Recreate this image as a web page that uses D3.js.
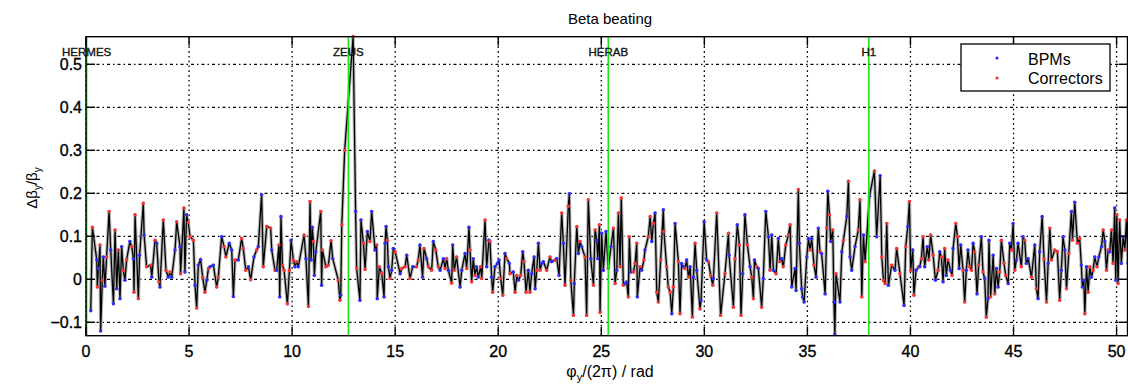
<!DOCTYPE html>
<html>
<head>
<meta charset="utf-8">
<script src="https://cdn.jsdelivr.net/npm/d3@7"></script>
<style>
  html, body { margin: 0; padding: 0; background: #fff; }
  svg { display: block; font-family: "Liberation Sans", Arial, Helvetica, sans-serif; }
</style>
</head>
<body>
<svg id="chart" width="1128" height="388"></svg>
<script>
// Phase advance of each monitor / corrector, in units of 2π
const phase = [
  0.23,0.31,0.52,0.55,0.60,0.68,0.71,0.79,0.84,0.92,1.00,1.12,1.20,1.33,1.41,1.49,1.57,1.65,1.73,1.81,
  1.89,1.97,2.13,2.22,2.30,2.33,2.38,2.54,2.60,2.78,2.82,2.94,3.14,3.19,3.35,3.43,3.54,3.59,3.75,3.88,
  3.99,4.08,4.16,4.32,4.40,4.56,4.59,4.75,4.80,4.88,4.96,5.05,5.21,5.29,5.37,5.45,5.56,5.66,5.77,5.86,
  5.94,6.02,6.18,6.34,6.42,6.58,6.70,6.79,6.95,7.07,7.15,7.23,7.39,7.55,7.63,7.75,7.88,7.99,8.15,8.28,
  8.36,8.52,8.60,8.77,8.96,9.01,9.17,9.25,9.36,9.40,9.46,9.53,9.61,9.77,9.87,9.95,
  10.06,10.14,10.22,10.30,10.58,10.67,10.79,10.87,10.92,10.98,11.03,11.08,11.15,11.39,11.43,11.47,11.64,11.76,11.89,11.97,
  12.24,12.32,12.36,12.41,12.55,12.96,13.08,13.13,13.29,13.34,13.46,13.54,13.65,13.78,13.86,14.02,14.10,14.13,14.23,14.35,
  14.46,14.51,14.56,14.62,14.67,14.75,14.83,14.91,15.00,15.24,15.32,15.48,15.56,15.72,15.85,16.04,16.12,16.20,16.33,16.40,
  16.53,16.61,16.77,16.85,16.97,17.09,17.18,17.34,17.42,17.50,17.58,17.74,17.79,17.87,17.98,18.15,18.23,18.39,18.47,18.58,
  18.63,18.71,18.79,18.87,18.95,19.03,19.15,19.20,19.36,19.44,19.55,19.60,19.68,19.73,19.84,19.96,20.04,20.12,20.22,
  20.33,20.41,20.54,20.57,20.73,20.82,20.90,20.98,21.09,21.19,21.25,21.35,21.46,21.54,21.62,21.74,21.79,21.87,21.95,22.03,
  22.11,22.19,22.35,22.51,22.59,22.76,22.84,22.95,23.08,23.16,23.24,23.40,23.45,23.52,23.65,23.69,23.81,23.89,23.97,24.05,
  24.21,24.29,24.37,24.49,24.62,24.70,24.78,24.83,24.91,24.94,25.02,25.10,25.23,25.34,25.47,25.59,25.67,25.75,25.83,25.91,
  25.97,26.07,26.15,26.23,26.31,26.36,26.43,26.56,26.64,26.72,26.75,26.88,26.96,27.07,27.12,27.28,27.37,27.45,27.53,27.61,
  27.69,27.77,27.88,28.01,28.04,28.17,28.25,28.34,28.42,28.50,28.58,28.74,28.82,28.90,28.98,29.06,29.14,29.23,29.31,29.42,
  29.47,29.55,29.63,29.79,29.84,29.99,30.11,30.20,30.31,
  30.41,30.44,30.60,30.79,31.00,31.17,31.20,31.41,31.49,31.60,31.70,31.78,31.86,31.97,32.09,32.22,32.30,32.38,32.43,32.54,
  32.62,32.78,32.86,32.98,33.11,33.19,33.27,33.35,33.48,33.59,33.67,33.75,33.83,33.95,34.08,34.16,34.24,34.40,34.45,34.56,
  34.61,34.72,34.77,34.84,34.97,35.05,35.13,35.21,35.32,35.42,35.53,35.61,35.69,35.86,35.94,35.99,36.07,36.13,36.23,36.29,
  36.33,36.39,36.58,36.67,36.75,36.91,36.99,37.07,37.15,37.31,37.47,37.55,37.64,37.72,37.80,38.01,38.25,38.36,38.53,38.61,
  38.69,38.77,38.85,38.93,39.09,39.25,39.33,39.49,39.69,39.77,39.87,39.95,40.01,40.11,40.17,40.27,40.39,
  40.45,40.53,40.61,40.69,40.82,40.89,40.98,41.10,41.21,41.34,41.42,41.50,41.58,41.66,41.74,41.82,41.94,42.02,42.07,42.20,
  42.28,42.36,42.44,42.55,42.63,42.71,42.79,42.88,42.96,43.04,43.12,43.23,43.31,43.44,43.52,43.60,43.68,43.76,43.81,43.89,
  44.01,44.09,44.17,44.25,44.33,44.41,44.54,44.62,44.74,44.82,44.90,44.98,45.06,45.14,45.22,45.38,45.46,45.54,45.62,45.71,
  45.87,46.03,46.11,46.19,46.27,46.39,46.48,46.60,46.68,46.76,46.84,47.00,47.13,47.24,47.32,47.40,47.49,47.57,47.68,47.81,
  47.86,47.97,48.10,48.21,48.29,48.34,48.41,48.46,48.54,48.62,48.70,48.78,48.86,48.94,49.05,49.14,49.27,49.35,49.43,49.51,
  49.59,49.67,49.75,49.83,49.91,49.96,50.01,50.07,50.15,50.23,50.32,50.40,50.48,50.56
];

// Relative beta beating Δβy/βy at each element
const beating = [
  -0.073,0.121,0.046,-0.018,0.025,0.080,-0.120,-0.002,0.052,-0.016,0.052,0.158,0.068,-0.057,0.115,-0.022,0.068,-0.045,0.076,0.021,
  -0.002,0.045,0.088,0.076,0.048,-0.030,0.150,-0.045,0.056,0.177,0.103,0.029,0.033,0.005,0.091,0.084,-0.006,-0.018,0.138,0.021,
  0.005,0.017,0.005,0.068,0.134,0.076,0.013,0.166,0.017,0.150,0.132,0.099,0.091,-0.014,-0.067,0.033,0.046,0.005,-0.030,-0.002,
  0.025,0.029,0.033,-0.018,0.005,0.099,0.076,0.052,0.084,0.068,-0.040,0.045,0.045,0.095,0.072,0.021,0.029,-0.001,0.052,0.068,
  0.076,0.197,0.029,0.123,0.119,0.068,0.021,0.021,0.080,-0.041,0.146,0.033,0.021,-0.057,0.021,0.091,
  0.045,0.029,0.041,0.029,0.103,0.048,-0.063,0.181,0.045,0.121,0.088,0.009,0.064,0.158,-0.014,0.068,0.029,0.033,0.090,0.048,
  -0.002,-0.049,-0.037,0.127,0.300,0.565,0.158,0.025,-0.049,0.138,0.084,0.023,0.111,0.088,0.158,0.068,0.080,-0.045,0.029,0.013,
  -0.041,0.084,0.123,0.091,0.029,0.002,0.021,0.072,0.064,0.013,0.025,0.029,0.056,0.002,0.029,0.029,0.045,0.080,0.005,0.072,
  0.048,0.029,0.021,0.088,0.068,0.029,0.021,0.048,0.025,0.048,0.021,-0.009,0.080,0.021,0.052,-0.018,0.021,0.060,0.025,0.121,
  0.068,-0.006,0.048,0.009,0.029,0.005,0.029,0.002,0.138,0.029,0.091,0.088,0.005,-0.030,0.029,0.037,0.045,0.002,-0.037,
  0.060,0.048,0.037,0.013,0.017,-0.030,0.009,-0.002,0.009,0.064,0.041,-0.030,0.021,-0.030,0.013,0.052,-0.022,0.021,0.084,0.021,
  0.037,0.041,0.021,0.052,0.041,0.045,0.048,0.009,0.154,0.084,-0.014,0.170,0.199,-0.002,-0.084,-0.010,0.123,0.060,0.088,0.076,
  0.052,-0.084,0.185,0.048,-0.014,0.115,0.091,0.048,0.127,-0.077,0.107,0.021,0.111,0.025,0.076,0.119,-0.010,0.021,0.154,0.029,
  0.189,-0.014,-0.010,-0.006,-0.041,0.099,0.017,0.017,0.037,0.084,-0.041,0.029,0.021,0.045,0.068,0.099,0.146,0.088,0.130,0.154,
  -0.030,-0.053,0.045,0.162,0.111,0.029,-0.018,-0.030,-0.080,-0.018,0.130,0.041,-0.080,0.037,0.029,0.025,0.045,0.005,0.029,-0.088,
  0.005,0.084,0.021,-0.069,-0.049,0.134,0.045,0.041,0.009,
  -0.014,0.002,0.154,-0.084,0.013,0.107,0.056,-0.065,0.048,0.127,0.080,-0.084,0.013,0.150,0.080,0.029,0.005,-0.045,0.045,0.029,
  0.025,-0.065,0.002,0.158,0.099,0.021,0.103,0.021,0.013,0.095,0.041,0.048,0.029,0.080,0.103,0.127,-0.018,0.025,-0.026,0.209,
  0.084,-0.022,-0.041,-0.053,0.052,0.095,0.068,0.095,0.033,0.005,0.119,0.064,0.060,-0.034,0.119,0.205,0.150,0.088,0.115,-0.053,
  -0.128,0.013,-0.053,0.064,0.091,0.146,0.228,0.052,0.021,0.076,0.115,0.185,-0.041,0.103,0.041,0.193,0.252,0.099,0.241,0.052,
  -0.002,-0.010,0.130,-0.014,0.033,0.021,0.072,0.013,-0.061,0.076,0.123,0.181,0.021,0.068,-0.037,0.021,0.029,
  0.029,0.048,0.099,0.029,0.076,0.045,0.103,0.056,-0.002,0.021,0.064,0.052,-0.006,0.072,0.009,0.045,0.021,0.009,0.072,0.130,
  0.099,0.025,0.080,0.021,-0.053,0.021,0.068,0.029,0.021,0.084,0.064,-0.034,0.033,0.099,0.017,0.002,-0.088,-0.045,0.091,-0.041,
  0.056,-0.034,0.025,-0.018,0.017,0.091,0.037,0.009,-0.010,0.084,0.068,0.130,0.021,0.045,0.084,0.029,0.099,0.091,0.037,0.048,
  0.005,0.080,-0.022,-0.045,0.064,0.146,0.048,-0.053,0.037,0.119,0.045,0.068,0.064,-0.049,0.021,0.099,0.068,-0.022,0.060,0.158,
  0.091,0.179,0.084,0.095,0.033,-0.018,-0.002,-0.080,0.029,-0.030,0.029,0.005,0.021,0.052,0.029,0.052,0.076,0.115,0.088,0.021,
  0.068,0.064,0.115,0.037,0.166,-0.002,0.150,-0.010,0.138,0.037,0.099,0.068,0.138,0.037
];

// Element type per point: B = beam position monitor, C = corrector
const kind = [
  "BCBCBCBCBBCCBBCBCBBC", "BCBCBCCCBCBCCBCBCBCC", "BCBBCBCCBBCCCBCBBCCB", "CBBCCBCCBBBCBCCCBCBC", "BBCCCBCBCBBCCCCB",
  "CBCBCBCCBBCBBCBCCCCB", "CCBCCCBCBBCCBCBBCBCC", "BBBCBCBBCBCCBCBCCBBC", "BCCBCCBBCCBCBCCBBBCB", "CCBCBBCCCBBCBCBBBCC",
  "BCBCBCCBCBCCBCBBBCBC", "BBCCBCBBCBCCBCCBCBCB", "CCCBCCBBCCBBBCBCCBCC", "CCBBCCBCCCBCBCBCCBCB", "CCCBCCCCBCBCCBBCBCBC", "BCBCBBBCC",
  "CBCCCCBCCBCCBBCBCCBC", "BCBBBCBBCBCBCCCCBBBC", "BBBBBBCBCBBCBBCBCBCB", "BCBBCBCBBBCCCBCBCBBC", "CCCBCBCCBCBCCBCBC",
  "BCCBBCCCBCBCBCBCBCBC", "CBBCCBBCCBCBCBCBCBBC", "BCBBCCCCBBCBCBBCBCBB", "CBCBBBCCBCCCCCBBBCCB", "CBCCBBBCBCCBCBCBBCBC", "CBCCBBCCCBBCCB"
].join("").split("");

// Interaction points marked along the ring
const ipNames = ["HERMES", "ZEUS", "HERAB", "H1"];
const ipPhase = [0.03, 12.73, 25.34, 37.98];

const xTicks = [0, 5, 10, 15, 20, 25, 30, 35, 40, 45, 50];
const yTicks = [-0.1, 0, 0.1, 0.2, 0.3, 0.4, 0.5];

const legendLabels = ["BPMs", "Correctors"];
const kindColor = { B: "#2b2bff", C: "#ff3030" };

const svg = d3.select("#chart");
const box = { l: 86, r: 1127.5, t: 36.7, b: 335.7 };

const x = d3.scaleLinear().domain([0, 50.53]).range([box.l, box.r]);
const y = d3.scaleLinear().domain([-0.1312, 0.5642]).range([box.b, box.t]);

const points = phase.map((p, i) => ({ p, v: beating[i], k: kind[i] || "B" }));

// Grid: dotted verticals, dash-dot horizontals
const grid = svg.append("g");
grid.selectAll("line.gx").data(xTicks).join("line")
  .attr("x1", d => x(d)).attr("x2", d => x(d))
  .attr("y1", box.t).attr("y2", box.b)
  .attr("stroke", "#000").attr("stroke-width", 1.3)
  .attr("stroke-dasharray", "1.6,3.2");
grid.selectAll("line.gy").data(yTicks).join("line")
  .attr("x1", box.l).attr("x2", box.r)
  .attr("y1", d => y(d)).attr("y2", d => y(d))
  .attr("stroke", "#000").attr("stroke-width", 1.3)
  .attr("stroke-dasharray", "3,3,1.5,3");

// Beating curve: grey halo under a black trace
const line = d3.line().x(d => x(d.p)).y(d => y(d.v));
const plot = svg.append("g");
plot.append("path").datum(points).attr("d", line)
  .attr("fill", "none").attr("stroke", "#b8b8b8").attr("stroke-width", 3.4)
  .attr("stroke-linejoin", "round");
plot.append("path").datum(points).attr("d", line)
  .attr("fill", "none").attr("stroke", "#000").attr("stroke-width", 1.3)
  .attr("stroke-linejoin", "round");

plot.selectAll("circle").data(points).join("circle")
  .attr("cx", d => x(d.p)).attr("cy", d => y(d.v)).attr("r", 1.7)
  .attr("fill", d => kindColor[d.k]);

// Interaction point markers
svg.selectAll("line.ip").data(ipPhase).join("line")
  .attr("x1", d => x(d)).attr("x2", d => x(d))
  .attr("y1", box.t).attr("y2", box.b)
  .attr("stroke", "#19e619").attr("stroke-width", 1.6);
svg.selectAll("text.ip").data(ipNames).join("text")
  .attr("x", (d, i) => x(ipPhase[i])).attr("y", 56)
  .attr("text-anchor", "middle").attr("font-size", 11.5)
  .attr("fill", "#111").attr("stroke", "#111").attr("stroke-width", 0.35)
  .text(d => d);

// Frame with inward ticks on all sides
svg.append("rect").attr("x", box.l).attr("y", box.t)
  .attr("width", box.r - box.l).attr("height", box.b - box.t)
  .attr("fill", "none").attr("stroke", "#000").attr("stroke-width", 1.4);

const tickLen = 9;
const ax = svg.append("g").attr("stroke", "#000").attr("stroke-width", 1.4);
ax.selectAll("line.bt").data(xTicks).join("line")
  .attr("x1", d => x(d)).attr("x2", d => x(d)).attr("y1", box.b).attr("y2", box.b - tickLen);
ax.selectAll("line.tt").data(xTicks).join("line")
  .attr("x1", d => x(d)).attr("x2", d => x(d)).attr("y1", box.t).attr("y2", box.t + tickLen);
ax.selectAll("line.lt").data(yTicks).join("line")
  .attr("x1", box.l).attr("x2", box.l + tickLen).attr("y1", d => y(d)).attr("y2", d => y(d));
ax.selectAll("line.rt").data(yTicks).join("line")
  .attr("x1", box.r).attr("x2", box.r - tickLen).attr("y1", d => y(d)).attr("y2", d => y(d));

// Tick labels
const labelStyle = sel => sel.attr("font-size", 16).attr("fill", "#000")
  .attr("stroke", "#000").attr("stroke-width", 0.35);
svg.selectAll("text.xt").data(xTicks).join("text")
  .attr("x", d => x(d)).attr("y", 357)
  .attr("text-anchor", "middle").call(labelStyle)
  .text(d => d);
svg.selectAll("text.yt").data(yTicks).join("text")
  .attr("x", 82).attr("y", d => y(d)).attr("dy", "0.36em")
  .attr("text-anchor", "end").call(labelStyle)
  .text(d => String(+d.toFixed(1)).replace("-", "\u2212"));

// Title
svg.append("text").attr("x", 610).attr("y", 24)
  .attr("text-anchor", "middle").attr("font-size", 15).attr("fill", "#000")
  .text("Beta beating");

// Axis labels
const xl = svg.append("text").attr("x", 610).attr("y", 377)
  .attr("text-anchor", "middle").attr("font-size", 16).attr("fill", "#000");
xl.append("tspan").text("\u03c6");
xl.append("tspan").attr("font-size", 11).attr("dy", 4).text("y");
xl.append("tspan").attr("dy", -4).text("/(2\u03c0) / rad");

const yl = svg.append("text")
  .attr("transform", "translate(37,188) rotate(-90)")
  .attr("text-anchor", "middle").attr("font-size", 15).attr("fill", "#000");
yl.append("tspan").text("\u0394\u03b2");
yl.append("tspan").attr("font-size", 10).attr("dy", 4).text("y");
yl.append("tspan").attr("dy", -4).text("/\u03b2");
yl.append("tspan").attr("font-size", 10).attr("dy", 4).text("y");

// Legend
const lg = svg.append("g");
lg.append("rect").attr("x", 961).attr("y", 44).attr("width", 149).attr("height", 47)
  .attr("fill", "#fff").attr("stroke", "#000").attr("stroke-width", 1.3);
lg.selectAll("circle").data(legendLabels).join("circle")
  .attr("cx", 997).attr("cy", (d, i) => 58 + i * 20).attr("r", 1.6)
  .attr("fill", (d, i) => i === 0 ? kindColor.B : kindColor.C);
lg.selectAll("text").data(legendLabels).join("text")
  .attr("x", 1028).attr("y", (d, i) => 65 + i * 19)
  .attr("font-size", 16).attr("fill", "#000")
  .text(d => d);
</script>
</body>
</html>
